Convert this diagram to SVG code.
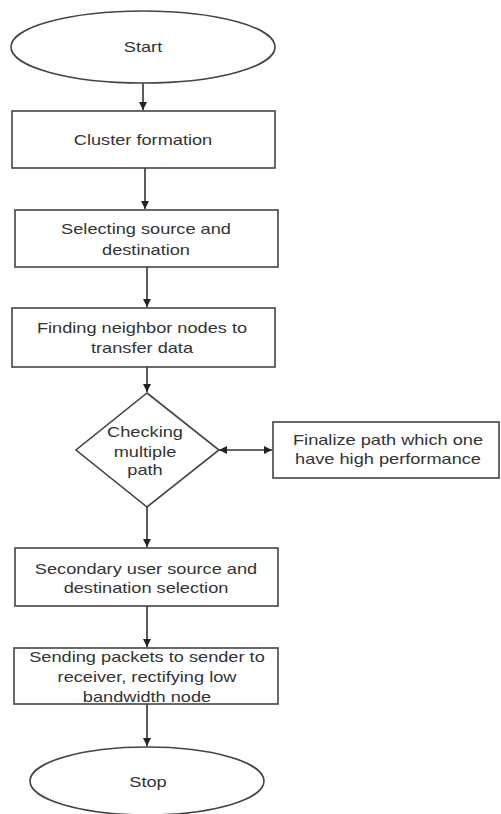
<svg xmlns="http://www.w3.org/2000/svg" width="501" height="814" viewBox="0 0 501 814">
<defs>
<marker id="ah" viewBox="0 0 10 10" refX="10" refY="5" markerWidth="8" markerHeight="8" markerUnits="userSpaceOnUse" orient="auto-start-reverse">
<path d="M0,0 L10,5 L0,10 z" fill="#222"/>
</marker>
<style>
.shape{fill:#fff;stroke:#444;stroke-width:1.6}
.t{font-family:"Liberation Sans",Arial,sans-serif;font-size:14px;fill:#333;text-anchor:middle}
.c{stroke:#333;stroke-width:1.6;fill:none;marker-end:url(#ah)}
</style>
</defs>
<rect width="501" height="814" fill="#fff"/>
<g id="connectors">
<line class="c" x1="143" y1="83" x2="143" y2="110"/>
<line class="c" x1="145" y1="168" x2="145" y2="209"/>
<line class="c" x1="147" y1="267" x2="147" y2="307"/>
<line class="c" x1="147" y1="367" x2="147" y2="392"/>
<line class="c" x1="219" y1="450" x2="272" y2="450" style="marker-start:url(#ah)"/>
<line class="c" x1="147" y1="507" x2="147" y2="547"/>
<line class="c" x1="147" y1="606" x2="147" y2="647"/>
<line class="c" x1="147" y1="704" x2="147" y2="746"/>
</g>
<g id="start">
<ellipse class="shape" cx="143" cy="47" rx="132" ry="36"/>
<text class="t" transform="translate(143,52) scale(1.3,1)">Start</text>
</g>
<g id="cluster">
<rect class="shape" x="12" y="111" width="263" height="57"/>
<text class="t" transform="translate(143,145) scale(1.3,1)">Cluster formation</text>
</g>
<g id="select">
<rect class="shape" x="15" y="210" width="263" height="57"/>
<text class="t" transform="translate(146,234) scale(1.3,1)">Selecting source and</text>
<text class="t" transform="translate(146,255) scale(1.3,1)">destination</text>
</g>
<g id="finding">
<rect class="shape" x="12" y="308" width="263" height="59"/>
<text class="t" transform="translate(142,333) scale(1.3,1)">Finding neighbor nodes to</text>
<text class="t" transform="translate(142,353) scale(1.3,1)">transfer data</text>
</g>
<g id="checking">
<polygon class="shape" points="147,393 219,450 147,507 76,450"/>
<text class="t" transform="translate(145,437) scale(1.3,1)">Checking</text>
<text class="t" transform="translate(145,457) scale(1.3,1)">multiple</text>
<text class="t" transform="translate(145,475) scale(1.3,1)">path</text>
</g>
<g id="finalize">
<rect class="shape" x="273" y="422" width="226" height="56"/>
<text class="t" transform="translate(388,445) scale(1.3,1)">Finalize path which one</text>
<text class="t" transform="translate(388,464) scale(1.3,1)">have high performance</text>
</g>
<g id="secondary">
<rect class="shape" x="15" y="548" width="263" height="58"/>
<text class="t" transform="translate(146,574) scale(1.3,1)">Secondary user source and</text>
<text class="t" transform="translate(146,593) scale(1.3,1)">destination selection</text>
</g>
<g id="sending">
<rect class="shape" x="14" y="648" width="264" height="56"/>
<text class="t" transform="translate(147,662) scale(1.3,1)">Sending packets to sender to</text>
<text class="t" transform="translate(147,682) scale(1.3,1)">receiver, rectifying low</text>
<text class="t" transform="translate(147,702) scale(1.3,1)">bandwidth node</text>
</g>
<g id="stop">
<ellipse class="shape" cx="147" cy="781" rx="117" ry="34"/>
<text class="t" transform="translate(148,787) scale(1.3,1)">Stop</text>
</g>
</svg>
